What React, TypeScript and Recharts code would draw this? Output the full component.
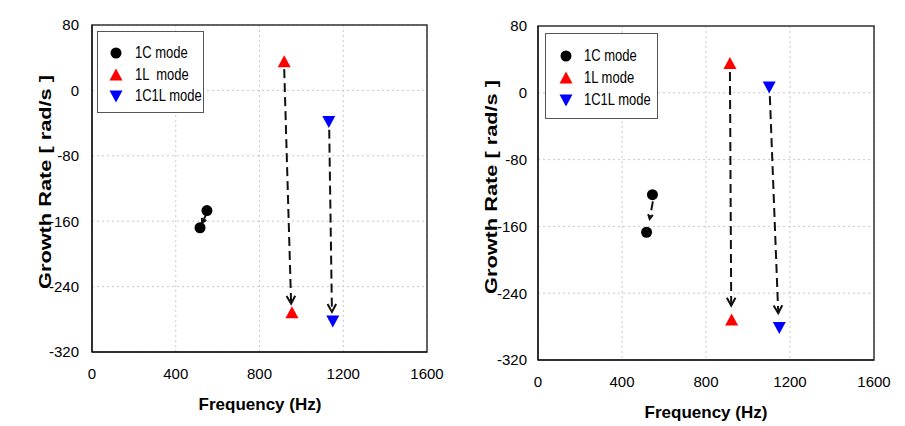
import React from 'react';
import { ScatterChart, Scatter, XAxis, YAxis, CartesianGrid, ReferenceArea } from 'recharts';

const FREQ_TICKS = [0, 400, 800, 1200, 1600];
const RATE_TICKS = [-320, -240, -160, -80, 0, 80];
const SERIES_NAMES = ['1C mode', '1L mode', '1C1L mode'];

// left panel: mode points (frequency Hz, growth rate rad/s)
const leftC = [{ x: 516, y: -168 }, { x: 549, y: -147 }];
const leftL = [{ x: 918, y: 35 }, { x: 955, y: -272 }];
const leftCL = [{ x: 1131, y: -38 }, { x: 1150, y: -282 }];
// left panel: arrows (start, end)
const leftArrowC = [{ x: 545, y: -152 }, { x: 526, y: -162 }];
const leftArrowL = [{ x: 918, y: 26 }, { x: 951, y: -261 }];
const leftArrowCL = [{ x: 1133, y: -48 }, { x: 1146, y: -271 }];

// right panel
const rightC = [{ x: 517, y: -167 }, { x: 545, y: -122 }];
const rightL = [{ x: 914, y: 35 }, { x: 922, y: -272 }];
const rightCL = [{ x: 1101, y: 7 }, { x: 1149, y: -281 }];
const rightArrowC = [{ x: 547, y: -130 }, { x: 532, y: -151 }];
const rightArrowL = [{ x: 914, y: 25 }, { x: 920, y: -255 }];
const rightArrowCL = [{ x: 1104, y: -4 }, { x: 1144, y: -264 }];

const FONT = '"Liberation Sans", Arial, sans-serif';

const Dot = (p: any) => <circle cx={p.cx} cy={p.cy} r={5.5} fill="#000" />;
const TriUp = (p: any) => (
  <path d={`M${p.cx},${p.cy - 6.5} L${p.cx + 6.5},${p.cy + 5.5} L${p.cx - 6.5},${p.cy + 5.5}Z`} fill="#ff0000" />
);
const TriDown = (p: any) => (
  <path d={`M${p.cx},${p.cy + 6.5} L${p.cx + 6.5},${p.cy - 5.5} L${p.cx - 6.5},${p.cy - 5.5}Z`} fill="#0000ff" />
);
const Nothing = () => <g />;

const SHAPES = [Dot, TriUp, TriDown];

const arrowLine = (head: number) => (p: any) => {
  const pts = p.points;
  if (!pts || pts.length < 2) return <g />;
  const a = pts[0];
  const b = pts[pts.length - 1];
  const ang = Math.atan2(b.y - a.y, b.x - a.x);
  const h1x = b.x - head * Math.cos(ang - 0.5);
  const h1y = b.y - head * Math.sin(ang - 0.5);
  const h2x = b.x - head * Math.cos(ang + 0.5);
  const h2y = b.y - head * Math.sin(ang + 0.5);
  return (
    <g>
      <line x1={a.x} y1={a.y} x2={b.x} y2={b.y} stroke="#111" strokeWidth={2} strokeDasharray="9 5" />
      <polyline points={`${h1x},${h1y} ${b.x},${b.y} ${h2x},${h2y}`} fill="none" stroke="#111" strokeWidth={2} />
    </g>
  );
};

type PanelProps = {
  left: number;
  width: number;
  margin: { top: number; right: number; bottom: number; left: number };
  yWidth: number;
  cData: any[]; lData: any[]; clData: any[];
  arrows: any[][];
  labels: string[];
  legendBox: { left: number; top: number; width: number; height: number; mx: number; tx: number; rowTop: number; rowGap: number };
  yLabel: { x: number; y: number };
  xLabel: { x: number; y: number };
  xTickMargin: number;
  yTickMargin: number;
};

const Panel = (props: PanelProps) => {
  const lb = props.legendBox;
  return (
    <div style={{ position: 'absolute', left: props.left, top: 0, width: props.width, height: 426 }}>
      <ScatterChart width={props.width} height={426} margin={props.margin}>
        <CartesianGrid stroke="#c8c8c8" strokeDasharray="2 3" />
        <XAxis
          type="number"
          dataKey="x"
          domain={[0, 1600]}
          ticks={FREQ_TICKS}
          height={30}
          tickLine={false}
          tickMargin={props.xTickMargin}
          axisLine={{ stroke: '#000' }}
          tick={{ fill: '#000', fontSize: 15, fontFamily: FONT }}
        />
        <YAxis
          type="number"
          dataKey="y"
          domain={[-320, 80]}
          ticks={RATE_TICKS}
          width={props.yWidth}
          tickLine={false}
          tickMargin={props.yTickMargin}
          axisLine={{ stroke: '#000' }}
          tick={{ fill: '#000', fontSize: 15, fontFamily: FONT }}
        />
        <ReferenceArea x1={0} x2={1600} y1={-320} y2={80} fill="none" stroke="#333" strokeWidth={1.5} />
        {props.arrows.map((a, i) => (
          <Scatter
            key={`arrow-${i}`}
            data={a}
            line={arrowLine(i === 0 ? 5 : 9)}
            lineType="joint"
            shape={Nothing}
            legendType="none"
            isAnimationActive={false}
          />
        ))}
        <Scatter name={SERIES_NAMES[0]} data={props.cData} fill="#000" shape={Dot} isAnimationActive={false} />
        <Scatter name={SERIES_NAMES[1]} data={props.lData} fill="#ff0000" shape={TriUp} isAnimationActive={false} />
        <Scatter name={SERIES_NAMES[2]} data={props.clData} fill="#0000ff" shape={TriDown} isAnimationActive={false} />
      </ScatterChart>
      <div style={{ position: 'absolute', left: lb.left, top: lb.top, width: lb.width, height: lb.height, border: '1px solid #555', background: '#fff', boxSizing: 'border-box' }}>
        {props.labels.map((label, i) => {
          const Shape = SHAPES[i];
          const cy = lb.rowTop + i * lb.rowGap;
          return (
            <div key={label}>
              <svg width={16} height={16} style={{ position: 'absolute', left: lb.mx - 8, top: cy - 8 }}>
                <Shape cx={8} cy={8} />
              </svg>
              <span style={{ position: 'absolute', left: lb.tx, top: cy - 9, fontSize: 13, lineHeight: '18px', fontFamily: FONT, color: '#000', whiteSpace: 'pre', display: 'inline-block', transform: 'scaleY(1.2)', transformOrigin: 'left center' }}>
                {label}
              </span>
            </div>
          );
        })}
      </div>
      <div style={{ position: 'absolute', left: props.yLabel.x, top: props.yLabel.y, transform: 'translate(-50%, -50%) rotate(-90deg) scaleX(1.28)', whiteSpace: 'nowrap', fontFamily: FONT, fontWeight: 'bold', fontSize: 17, lineHeight: '17px', color: '#000' }}>
        Growth Rate [ rad/s ]
      </div>
      <div style={{ position: 'absolute', left: props.xLabel.x, top: props.xLabel.y, transform: 'translate(-50%, -50%)', whiteSpace: 'nowrap', fontFamily: FONT, fontWeight: 'bold', fontSize: 17, color: '#000' }}>
        Frequency (Hz)
      </div>
    </div>
  );
};

export default function App() {
  return (
    <div style={{ position: 'absolute', left: 0, top: 0, width: 905, height: 426, background: '#fff', overflow: 'hidden' }}>
      <Panel
        left={0}
        width={450}
        margin={{ top: 25, right: 23, bottom: 44, left: 0 }}
        yWidth={92}
        cData={leftC}
        lData={leftL}
        clData={leftCL}
        arrows={[leftArrowC, leftArrowL, leftArrowCL]}
        labels={['1C mode', '1L  mode', '1C1L mode']}
        legendBox={{ left: 97, top: 31, width: 107, height: 82, mx: 18, tx: 37, rowTop: 21, rowGap: 21.5 }}
        yLabel={{ x: 45, y: 182 }}
        xLabel={{ x: 260, y: 405 }}
        xTickMargin={10}
        yTickMargin={7}
      />
      <Panel
        left={450}
        width={455}
        margin={{ top: 26, right: 31, bottom: 36, left: 0 }}
        yWidth={88}
        cData={rightC}
        lData={rightL}
        clData={rightCL}
        arrows={[rightArrowC, rightArrowL, rightArrowCL]}
        labels={['1C mode', '1L mode', '1C1L mode']}
        legendBox={{ left: 95, top: 33, width: 113, height: 86, mx: 20, tx: 38, rowTop: 22, rowGap: 22 }}
        yLabel={{ x: 41, y: 187 }}
        xLabel={{ x: 256, y: 413 }}
        xTickMargin={10}
        yTickMargin={5}
      />
    </div>
  );
}
